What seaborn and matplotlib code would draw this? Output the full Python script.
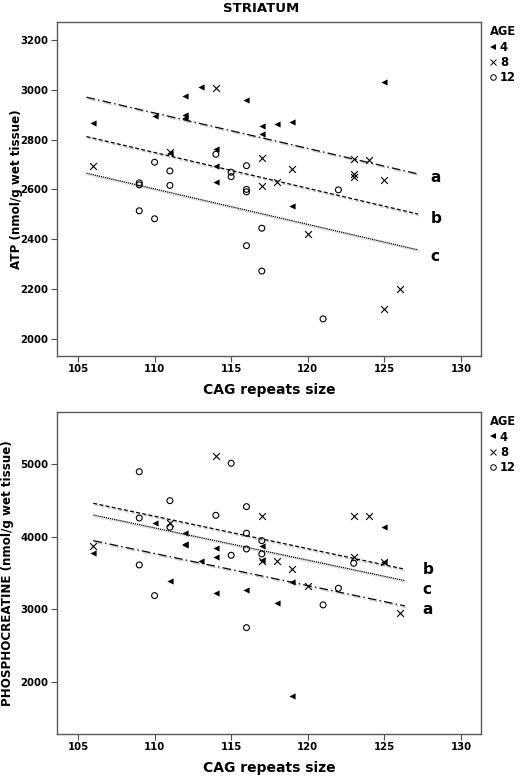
import numpy as np
import pandas as pd
import matplotlib
matplotlib.use("Agg")
import matplotlib.pyplot as plt
import seaborn as sns
from matplotlib.lines import Line2D
import matplotlib.patheffects as pe

sns.set_theme(style="white")
plt.rcParams["font.family"] = ["DejaVu Sans"]
plt.rcParams["text.color"] = "black"
plt.rcParams["axes.labelcolor"] = "black"
plt.rcParams["xtick.color"] = "black"
plt.rcParams["ytick.color"] = "black"

# ---------------- data ----------------
# ATP panel
atp_age4_cag = [106, 110, 111, 112, 112, 112, 113, 114, 114, 114, 116, 117, 117, 118, 119, 119, 125]
atp_age4_val = [2865, 2896, 2745, 2976, 2900, 2885, 3011, 2761, 2694, 2630, 2960, 2856, 2822, 2864, 2869, 2535, 3030]
atp_age8_cag = [106, 111, 114, 117, 117, 118, 119, 120, 123, 123, 123, 124, 125, 125, 126]
atp_age8_val = [2695, 2752, 3006, 2725, 2615, 2629, 2682, 2420, 2722, 2660, 2648, 2718, 2638, 2120, 2200]
atp_age12_cag = [109, 109, 109, 110, 110, 111, 111, 114, 115, 115, 116, 116, 116, 116, 117, 117, 121, 122]
atp_age12_val = [2626, 2618, 2514, 2709, 2482, 2674, 2616, 2741, 2669, 2651, 2695, 2600, 2590, 2374, 2444, 2272, 2080, 2598]
atp_fit_x = [105.55, 127.2]
atp_fit_a = [2970, 2662]
atp_fit_b = [2812, 2501]
atp_fit_c = [2665, 2357]

# Phosphocreatine panel
pcr_age4_cag = [106, 110, 111, 112, 112, 112, 113, 114, 114, 114, 116, 117, 117, 118, 119, 119, 125, 125]
pcr_age4_val = [3772, 4193, 3395, 4055, 3900, 3880, 3660, 3840, 3725, 3230, 3267, 3872, 3680, 3084, 3381, 1813, 4138, 3650]
pcr_age8_cag = [106, 111, 114, 117, 117, 118, 119, 120, 123, 123, 124, 125, 126]
pcr_age8_val = [3872, 4184, 5110, 4289, 3670, 3670, 3552, 3322, 4289, 3725, 4289, 3650, 2955]
pcr_age12_cag = [109, 109, 109, 110, 111, 111, 114, 115, 115, 116, 116, 116, 116, 117, 117, 121, 122, 123]
pcr_age12_val = [4894, 4257, 3611, 3189, 4495, 4130, 4294, 5010, 3744, 4413, 4047, 3831, 2748, 3945, 3762, 3061, 3290, 3634]
pcr_fit_x = [106, 126.35]
pcr_fit_a = [3945, 3047]
pcr_fit_b = [4459, 3552]
pcr_fit_c = [4298, 3395]

age_labels = ["4", "8", "12"]
x_ticks = [105, 110, 115, 120, 125, 130]
atp_ticks = [2000, 2200, 2400, 2600, 2800, 3000, 3200]
pcr_ticks = [2000, 3000, 4000, 5000]

# ---------------- figure ----------------
W, H = 520, 778
fig = plt.figure(figsize=(W / 100, H / 100), dpi=100)

def ax_rect(l, t, r, b):
    return [l / W, 1 - b / H, (r - l) / W, (b - t) / H]

ax1 = fig.add_axes(ax_rect(57, 22, 481, 356))
ax2 = fig.add_axes(ax_rect(57, 412, 481, 734))

styles = {
    "a": (0, (7, 2.5, 1.2, 2.5)),
    "b": (0, (3.2, 1.8)),
    "c": (0, (1.0, 0.7)),
}
shadow = [pe.SimpleLineShadow(offset=(0.8, -1.2), shadow_color="0.6", alpha=0.5), pe.Normal()]

def draw_panel(ax, g4, g8, g12, fx, fits, ylim, yticks, ylabel, ylabelpad, lbl_pos):
    d4 = pd.DataFrame({"cag": g4[0], "v": g4[1]})
    d8 = pd.DataFrame({"cag": g8[0], "v": g8[1]})
    d12 = pd.DataFrame({"cag": g12[0], "v": g12[1]})
    sns.scatterplot(data=d4, x="cag", y="v", ax=ax, marker="<", color="black",
                    s=20, linewidth=0, zorder=3)
    sns.scatterplot(data=d8, x="cag", y="v", ax=ax, marker="x", color="black",
                    s=24, linewidth=0.8, zorder=3)
    sns.scatterplot(data=d12, x="cag", y="v", ax=ax, marker="o", facecolor="none",
                    edgecolor="black", s=18, linewidth=0.8, zorder=3)
    for key, vals in fits.items():
        dl = pd.DataFrame({"cag": fx, "v": vals})
        sns.lineplot(data=dl, x="cag", y="v", ax=ax, color="black", lw=0.9,
                     linestyle=styles[key], path_effects=shadow, zorder=2)
    for key, (xx, yy) in lbl_pos.items():
        ax.text(xx, yy, key, fontsize=11, fontweight="bold", ha="left", va="center")

    ax.set_xlim(103.63, 131.31)
    ax.set_ylim(*ylim)
    ax.set_xticks(x_ticks)
    ax.set_yticks(yticks)
    ax.set_xlabel("CAG repeats size", fontsize=10, fontweight="bold", labelpad=6)
    ax.set_ylabel(ylabel, fontsize=8.6, fontweight="bold", labelpad=ylabelpad)
    ax.tick_params(axis="both", which="both", direction="out", length=4, width=0.8,
                   color="0.3", labelsize=7.3, pad=2, bottom=True, left=True)
    for t in ax.get_xticklabels() + ax.get_yticklabels():
        t.set_fontweight("bold")
    for sp in ax.spines.values():
        sp.set_color("0.35")
        sp.set_linewidth(1.0)
        sp.set_visible(True)

    handles = [
        Line2D([], [], marker="<", color="black", ls="none", ms=4, mew=0),
        Line2D([], [], marker="x", color="black", ls="none", ms=4, mew=0.7),
        Line2D([], [], marker="o", mfc="none", mec="black", ls="none", ms=4, mew=0.7),
    ]
    leg = ax.legend(handles, age_labels, title="AGE", loc="upper left",
                    bbox_to_anchor=(1.02, 0.99), frameon=False, fontsize=8.3,
                    handlelength=0.6, handletextpad=0.3, labelspacing=0.2,
                    borderaxespad=0, borderpad=0, alignment="left",
                    title_fontproperties={"weight": "bold", "size": 8.3})
    for t in leg.get_texts():
        t.set_fontweight("bold")

draw_panel(ax1,
           (atp_age4_cag, atp_age4_val), (atp_age8_cag, atp_age8_val),
           (atp_age12_cag, atp_age12_val), atp_fit_x,
           {"a": atp_fit_a, "b": atp_fit_b, "c": atp_fit_c},
           (1931, 3272), atp_ticks, "ATP (nmol/g wet tissue)", -2,
           {"a": (128.0, 2649), "b": (128.0, 2484), "c": (128.0, 2330)})
draw_panel(ax2,
           (pcr_age4_cag, pcr_age4_val), (pcr_age8_cag, pcr_age8_val),
           (pcr_age12_cag, pcr_age12_val), pcr_fit_x,
           {"a": pcr_fit_a, "b": pcr_fit_b, "c": pcr_fit_c},
           (1285, 5715), pcr_ticks, "PHOSPHOCREATINE (nmol/g wet tissue)", 5,
           {"b": (127.5, 3542), "c": (127.5, 3277), "a": (127.5, 2992)})

fig.text(261 / W, 1 - 9 / H, "STRIATUM", ha="center", va="center",
         fontsize=9.5, fontweight="bold")

fig.savefig("out.png", dpi=100)
